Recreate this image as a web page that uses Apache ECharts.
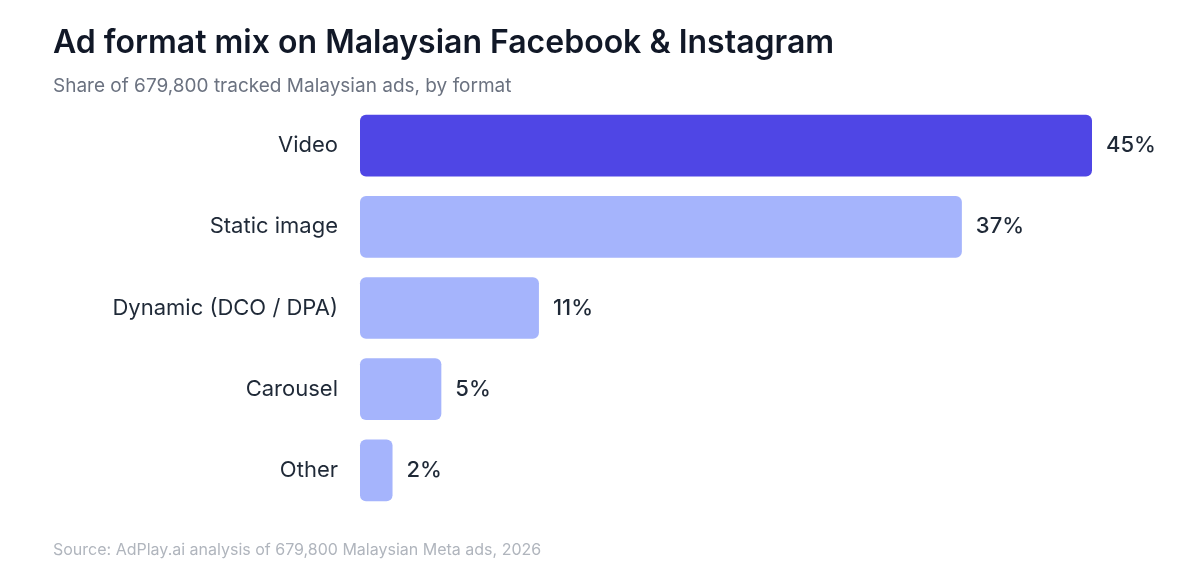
<!DOCTYPE html>
<html><head><meta charset="utf-8">
<script src="https://cdn.jsdelivr.net/npm/echarts@6/dist/echarts.min.js"></script>
<style>html,body{margin:0;padding:0;background:#fff}#c{width:1200px;height:571px}</style>
</head><body><div id="c"></div>
<script>
const categories = ["Video", "Static image", "Dynamic (DCO / DPA)", "Carousel", "Other"];
const values = [45, 37, 11, 5, 2];
const colors = ["#4F46E5", "#A5B4FC", "#A5B4FC", "#A5B4FC", "#A5B4FC"];
const chart = echarts.init(document.getElementById('c'));
chart.setOption({
  backgroundColor: '#fff',
  animation: false,
  title: [
    {text: 'Ad format mix on Malaysian Facebook & Instagram', left: 48, top: 22,
     textStyle: {fontFamily: 'Inter', fontSize: 32, fontWeight: 600, color: '#111827'}},
    {text: 'Share of 679,800 tracked Malaysian ads, by format', left: 48, top: 72,
     textStyle: {fontFamily: 'Inter', fontSize: 19, fontWeight: 400, color: '#6b7280'}},
    {text: 'Source: AdPlay.ai analysis of 679,800 Malaysian Meta ads, 2026', left: 48, top: 537,
     textStyle: {fontFamily: 'Inter', fontSize: 16, fontWeight: 400, color: '#b0b5bd'}}
  ],
  grid: {left: 360, right: 108, top: 105, bottom: 60},
  xAxis: {type: 'value', min: 0, max: 45, show: false},
  yAxis: {type: 'category', data: categories, inverse: true,
    axisLine: {show: false}, axisTick: {show: false},
    axisLabel: {margin: 22, fontFamily: 'Inter', fontSize: 22, color: '#1f2937'}},
  series: [{type: 'bar', barWidth: '76%',
    data: values.map((v, i) => ({value: v, itemStyle: {color: colors[i], borderRadius: 6}})),
    label: {show: true, position: 'right', distance: 14, formatter: '{c}%',
      fontFamily: 'Inter', fontSize: 22, fontWeight: 500, color: '#1f2937'}}]
});
</script></body></html>
